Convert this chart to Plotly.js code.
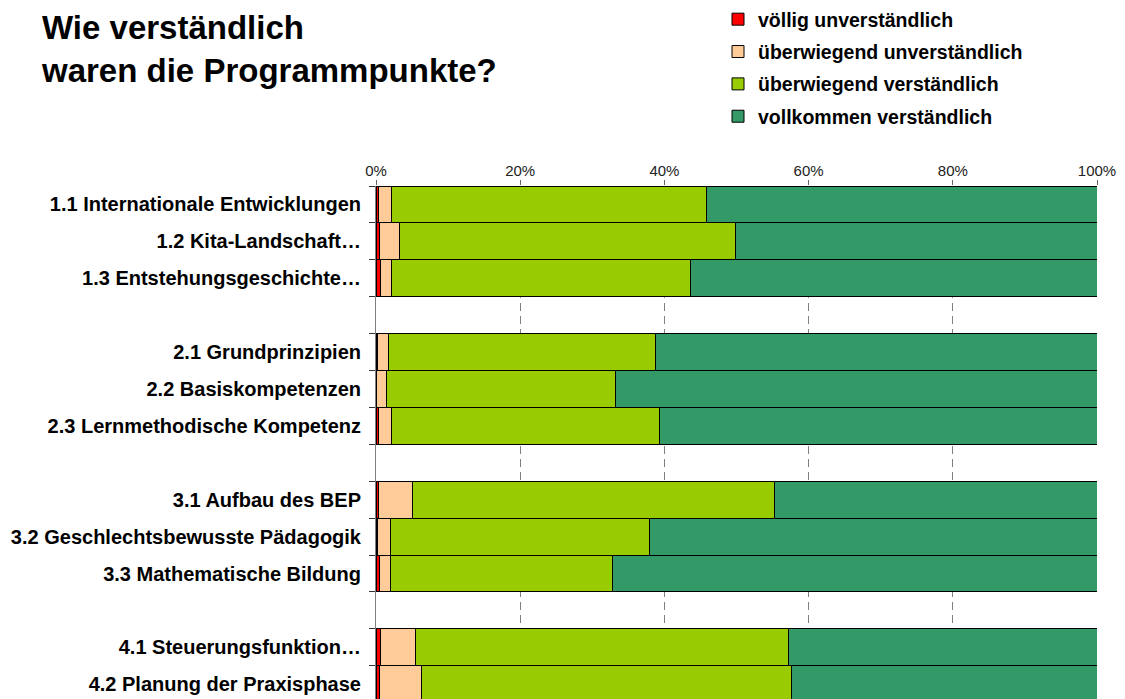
<!DOCTYPE html>
<html><head><meta charset="utf-8">
<script src="https://cdn.plot.ly/plotly-3.0.1.min.js"></script>
<style>html,body{margin:0;padding:0;background:#fff;overflow:hidden}#chart{width:1125px;height:699px}</style>
</head><body><div id="chart"></div>
<script>
// Categories (blank entries are the spacer rows between blocks)
const categories = [
  '1.1 Internationale Entwicklungen',
  '1.2 Kita-Landschaft…',
  '1.3 Entstehungsgeschichte…',
  ' ',
  '2.1 Grundprinzipien',
  '2.2 Basiskompetenzen',
  '2.3 Lernmethodische Kompetenz',
  '  ',
  '3.1 Aufbau des BEP',
  '3.2 Geschlechtsbewusste Pädagogik',
  '3.3 Mathematische Bildung',
  '   ',
  '4.1 Steuerungsfunktion…',
  '4.2 Planung der Praxisphase'
];
const seriesNames = ['völlig unverständlich', 'überwiegend unverständlich', 'überwiegend verständlich', 'vollkommen verständlich'];
const seriesColors = ['#FF0000', '#FFCC99', '#99CC00', '#339966'];
// values in percent
const voelligUnverstaendlich     = [0.3, 0.5, 0.6, null, 0.2, 0.1, 0.3, null, 0.4, 0.2, 0.5, null, 0.6, 0.5];
const ueberwiegendUnverstaendlich = [1.9, 2.7, 1.6, null, 1.5, 1.3, 1.8, null, 4.6, 1.8, 1.5, null, 4.9, 5.8];
const ueberwiegendVerstaendlich   = [43.7, 46.7, 41.4, null, 37.1, 31.8, 37.2, null, 50.3, 36.0, 30.8, null, 51.7, 51.3];
const vollkommenVerstaendlich     = [54.1, 50.1, 56.4, null, 61.2, 66.8, 60.7, null, 44.7, 62.0, 67.2, null, 42.8, 42.4];
const xTickValues = [0, 20, 40, 60, 80, 100];
const xTickLabels = ['0%', '20%', '40%', '60%', '80%', '100%'];

const seriesValues = [voelligUnverstaendlich, ueberwiegendUnverstaendlich, ueberwiegendVerstaendlich, vollkommenVerstaendlich];
const FONT = 'Liberation Sans, Arial, sans-serif';

const traces = seriesValues.map((vals, i) => ({
  type: 'bar',
  orientation: 'h',
  name: seriesNames[i],
  legendgroup: 'g' + i,
  x: vals,
  y: categories,
  marker: {color: seriesColors[i], line: {color: '#000000', width: 1}},
  hoverinfo: 'x+y+name'
}));

const layout = {
  width: 1125, height: 699,
  paper_bgcolor: '#ffffff', plot_bgcolor: '#ffffff',
  margin: {l: 376, r: 28, t: 186, b: 0, pad: 0, autoexpand: false},
  barmode: 'stack',
  bargap: 0,
  showlegend: true,
  font: {family: FONT, color: '#000000'},
  title: {
    text: '<b>Wie verständlich<br>waren die Programmpunkte?</b>',
    font: {family: FONT, size: 33, color: '#000000'},
    x: 42 / 1125, xref: 'container', xanchor: 'left',
    y: 1 - 39 / 699, yref: 'container', yanchor: 'top'
  },
  legend: {
    x: 718 / 1125, xref: 'container', xanchor: 'left',
    y: 1 + 2 / 699, yref: 'container', yanchor: 'top',
    traceorder: 'grouped', tracegroupgap: 4,
    font: {family: FONT, size: 19.5, color: '#000000', weight: 'bold'},
    bgcolor: 'rgba(0,0,0,0)', borderwidth: 0
  },
  xaxis: {
    side: 'top', range: [0, 100], fixedrange: true,
    tickmode: 'array', tickvals: xTickValues, ticktext: xTickLabels,
    ticks: 'outside', ticklen: 5, tickcolor: '#666666', tickwidth: 1,
    tickfont: {family: FONT, size: 15, color: '#222222'},
    ticklabelstandoff: -2,
    showgrid: true, gridcolor: '#808080', gridwidth: 1, griddash: '8px,5px',
    showline: false, zeroline: false
  },
  yaxis: {
    type: 'category', categoryorder: 'array', categoryarray: categories,
    range: [13.4, -0.5], fixedrange: true,
    ticks: 'outside', tickson: 'boundaries', ticklen: 6, tickcolor: '#333333', tickwidth: 1,
    tickfont: {family: FONT, size: 20, color: '#000000', weight: 'bold'},
    ticklabelstandoff: 10,
    showline: true, linecolor: '#808080', linewidth: 1,
    showgrid: false, zeroline: false
  }
};

Plotly.newPlot('chart', traces, layout, {displayModeBar: false, staticPlot: true});
</script>
</body></html>
